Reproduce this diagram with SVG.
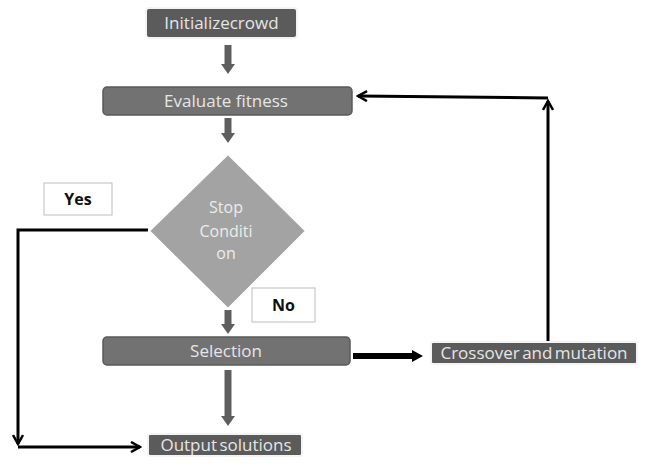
<svg xmlns="http://www.w3.org/2000/svg" width="647" height="464" viewBox="0 0 647 464">
<defs>
<style>
.dark{fill:#5b5b5b;stroke:#f4f4f4;stroke-width:2}
.mid{fill:#727272;stroke:#5a5a5a;stroke-width:1.5}
.lbl{font-family:"Open Sans","Noto Sans",sans-serif;font-size:17px;fill:#e6e6e6;text-anchor:middle}
.dl{font-family:"Open Sans","Noto Sans",sans-serif;font-size:16px;fill:#ececec;text-anchor:middle}
.box{fill:#fff;stroke:#bdbdbd;stroke-width:1}
.bl{font-family:"Open Sans","Noto Sans",sans-serif;font-size:16px;font-weight:bold;fill:#111;text-anchor:middle}
.gray{stroke:#5e5e5e;stroke-width:7;fill:none}
.blk{stroke:#000;stroke-width:3;fill:none}
</style>
<marker id="gh" markerWidth="16" markerHeight="16" refX="2" refY="8" orient="auto" markerUnits="userSpaceOnUse">
<path d="M0,1 L10,8 L0,15 Z" fill="#5e5e5e"/>
</marker>
<marker id="bh" markerWidth="12" markerHeight="12" refX="10" refY="6" orient="auto" markerUnits="userSpaceOnUse">
<path d="M1,1 L10,6 L1,11" fill="none" stroke="#000" stroke-width="2.5"/>
</marker>
<marker id="bh2" markerWidth="14" markerHeight="14" refX="2" refY="7" orient="auto" markerUnits="userSpaceOnUse">
<path d="M0,1 L11,7 L0,13 Z" fill="#000"/>
</marker>
</defs>
<rect width="647" height="464" fill="#fff"/>
<g id="connectors">
<line class="gray" x1="228" y1="45" x2="228" y2="66" marker-end="url(#gh)"/>
<line class="gray" x1="228" y1="118" x2="228" y2="135" marker-end="url(#gh)"/>
<line class="gray" x1="228" y1="310" x2="228" y2="326" marker-end="url(#gh)"/>
<line class="gray" x1="228" y1="370" x2="228" y2="418" marker-end="url(#gh)"/>
<polyline class="blk" points="148,230 18,230 18,444" marker-end="url(#bh)"/>
<line class="blk" x1="18" y1="447" x2="140" y2="447" marker-end="url(#bh)"/>
<line x1="353" y1="356" x2="414" y2="356" stroke="#000" stroke-width="6" marker-end="url(#bh2)"/>
<line class="blk" x1="548" y1="343" x2="548" y2="101" marker-end="url(#bh)"/>
<line class="blk" x1="548" y1="98" x2="358" y2="96" marker-end="url(#bh)"/>
</g>
<g id="n-init">
<rect class="dark" x="146" y="8" width="151" height="30" rx="3"/>
<text class="lbl" x="221.5" y="29">Initializecrowd</text>
</g>
<g id="n-eval">
<rect class="mid" x="103" y="87" width="249" height="28" rx="4"/>
<text class="lbl" x="226" y="107">Evaluate fitness</text>
</g>
<g id="n-stop">
<polygon points="228,154 306,231 228,309 149,231" fill="#a3a3a3" stroke="#fff" stroke-width="2"/>
<text class="dl" x="226" y="213">Stop</text>
<text class="dl" x="226" y="237">Conditi</text>
<text class="dl" x="226" y="259">on</text>
</g>
<g id="n-yes">
<rect class="box" x="44" y="183" width="68" height="32"/>
<text class="bl" x="78" y="205">Yes</text>
</g>
<g id="n-no">
<rect class="box" x="252" y="288" width="63" height="34"/>
<text class="bl" x="283.5" y="311">No</text>
</g>
<g id="n-sel">
<rect class="mid" x="103" y="337" width="247" height="28" rx="4"/>
<text class="lbl" x="226" y="357">Selection</text>
</g>
<g id="n-cross">
<rect class="dark" x="431" y="342" width="206" height="22" rx="2"/>
<text class="lbl" x="534" y="359" word-spacing="-2">Crossover and mutation</text>
</g>
<g id="n-out">
<rect class="dark" x="148" y="434" width="154" height="22" rx="2"/>
<text class="lbl" x="226" y="451" word-spacing="-2">Output solutions</text>
</g>
</svg>
